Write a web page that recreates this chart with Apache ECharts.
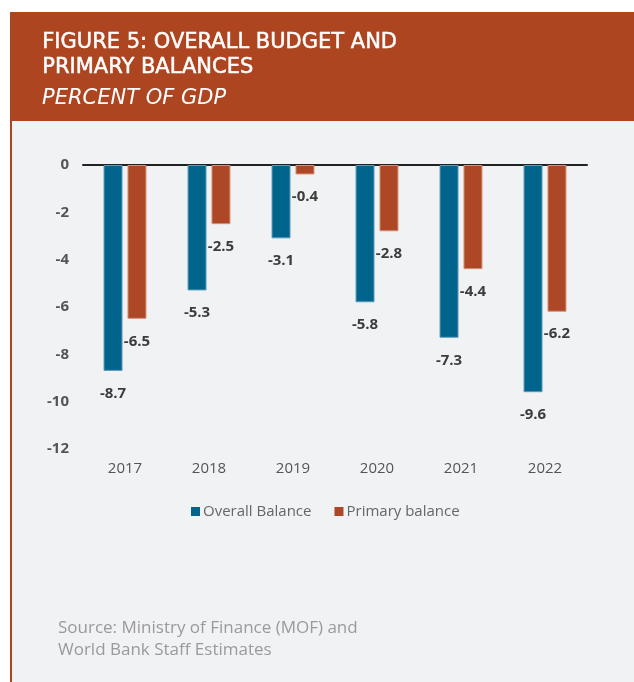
<!DOCTYPE html>
<html>
<head>
<meta charset="utf-8">
<script src="https://cdn.jsdelivr.net/npm/echarts@6/dist/echarts.min.js"></script>
<style>
  html, body { margin: 0; padding: 0; background: #ffffff; }
  #chart { width: 634px; height: 682px; }
</style>
</head>
<body>
<div id="chart"></div>
<script>
// Fiscal balances, percent of GDP
const years = ['2017', '2018', '2019', '2020', '2021', '2022'];
const overallBalance = [-8.7, -5.3, -3.1, -5.8, -7.3, -9.6];
const primaryBalance = [-6.5, -2.5, -0.4, -2.8, -4.4, -6.2];
const yTicks = [0, -2, -4, -6, -8, -10, -12];

const BRAND = '#AD4520';
const BLUE = '#00648C';
const RUST = '#AD4726';
const FONT = '"Open Sans", Lato, sans-serif';
const HEAD_FONT = '"DejaVu Sans", sans-serif';

const chart = echarts.init(document.getElementById('chart'), null, { renderer: 'canvas' });

const valueLabel = {
  show: true,
  position: 'bottom',
  distance: 15,
  fontFamily: FONT,
  fontSize: 15,
  fontWeight: 'bold',
  color: '#3c3c3c',
  formatter: p => p.value.toFixed(1)
};

chart.setOption({
  backgroundColor: '#ffffff',
  animation: false,
  graphic: [
    { type: 'rect', z: -10, shape: { x: 10, y: 120, width: 624, height: 562 }, style: { fill: '#F1F2F4' } },
    { type: 'rect', z: -5, shape: { x: 10, y: 12, width: 624, height: 109 }, style: { fill: BRAND } },
    { type: 'rect', z: -5, shape: { x: 10, y: 120, width: 2, height: 562 }, style: { fill: BRAND } },
    {
      type: 'text', left: 42, top: 30,
      style: {
        text: 'FIGURE 5: OVERALL BUDGET AND\nPRIMARY BALANCES',
        fill: '#ffffff', stroke: '#ffffff', lineWidth: 0.5,
        font: '21px ' + HEAD_FONT, lineHeight: 25
      }
    },
    {
      type: 'text', left: 42, top: 88,
      style: {
        text: 'PERCENT OF GDP',
        fill: '#ffffff', font: 'italic 21px ' + HEAD_FONT
      }
    },
    {
      type: 'text', left: 58, top: 617,
      style: {
        text: 'Source: Ministry of Finance (MOF) and\nWorld Bank Staff Estimates',
        fill: '#9a9a9a', font: '17px ' + FONT, lineHeight: 22
      }
    }
  ],
  grid: { left: 83, right: 47, top: 165, height: 284, containLabel: false },
  legend: {
    top: 499,
    left: 186,
    itemWidth: 9,
    itemHeight: 9,
    itemGap: 23,
    icon: 'rect',
    itemStyle: { borderWidth: 0 },
    textStyle: { fontFamily: FONT, fontSize: 15, color: '#666666', padding: [0, 0, 0, -2] },
    data: ['Overall Balance', 'Primary balance']
  },
  xAxis: [
    {
      type: 'category',
      data: years,
      position: 'top',
      axisLine: { show: true, onZero: true, lineStyle: { color: '#222222', width: 2 } },
      axisTick: { show: false },
      axisLabel: { show: false }
    },
    {
      // year labels along the bottom of the plot area
      type: 'category',
      data: years,
      position: 'bottom',
      axisLine: { show: false },
      axisTick: { show: false },
      axisLabel: { margin: 12, fontFamily: FONT, fontSize: 15, color: '#555555' }
    }
  ],
  yAxis: {
    type: 'value',
    min: -12,
    max: 0,
    interval: 2,
    axisLine: { show: false },
    axisTick: { show: false },
    splitLine: { show: false },
    axisLabel: {
      margin: 14,
      fontFamily: FONT, fontSize: 15, fontWeight: 'bold', color: '#555555',
      formatter: v => (yTicks.includes(v) ? String(v) : '')
    }
  },
  series: [
    {
      name: 'Overall Balance',
      type: 'bar',
      data: overallBalance,
      barWidth: 19,
      barGap: '26%',
      itemStyle: { color: BLUE, borderColor: '#5f9bb8', borderWidth: 1 },
      label: valueLabel
    },
    {
      name: 'Primary balance',
      type: 'bar',
      data: primaryBalance,
      barWidth: 19,
      itemStyle: { color: RUST, borderColor: '#d4907a', borderWidth: 1 },
      label: valueLabel
    }
  ]
});
</script>
</body>
</html>
